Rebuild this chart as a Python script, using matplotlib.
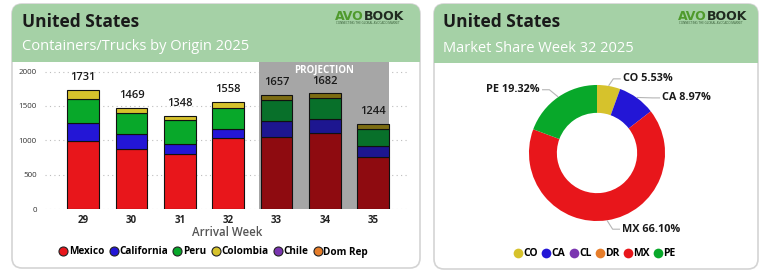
import numpy as np
import matplotlib
matplotlib.use('Agg')
import matplotlib.pyplot as plt
from matplotlib.patches import FancyBboxPatch, Rectangle
from matplotlib.lines import Line2D

plt.rcParams['font.family'] = ['Open Sans', 'DejaVu Sans']

# ---- data ----
weeks = ['29', '30', '31', '32', '33', '34', '35']
mexico = [990, 869, 796, 1030, 1049, 1102, 752]
california = [255, 218, 155, 140, 237, 209, 165]
peru = [362, 306, 340, 301, 297, 301, 243]
colombia = [124, 76, 57, 87, 74, 70, 84]
totals = [1731, 1469, 1348, 1558, 1657, 1682, 1244]
projected = [False, False, False, False, True, True, True]

share_labels = ['CO', 'CA', 'CL', 'DR', 'MX', 'PE']
share_values = [5.53, 8.97, 0.0, 0.0, 66.10, 19.32]

# colours
c_real = {'Mexico': '#e8161b', 'California': '#2316d6', 'Peru': '#08a82a', 'Colombia': '#d6c22c'}
c_proj = {'Mexico': '#8e0b10', 'California': '#1d1690', 'Peru': '#08702a', 'Colombia': '#7c6c12'}
legend_cols = {'Mexico': '#e8161b', 'California': '#2316d6', 'Peru': '#08a82a',
               'Colombia': '#d6c22c', 'Chile': '#7a35b0', 'Dom Rep': '#e67d2a'}
share_cols = ['#d6c22c', '#2316d6', '#7a35b0', '#e67d2a', '#e8161b', '#08a82a']
header_green = '#a5d1a6'

W, H = 768, 275
fig = plt.figure(figsize=(W / 100, H / 100), dpi=100)

# background axes in pixel coordinates
bg = fig.add_axes([0, 0, 1, 1])
bg.set_xlim(0, W)
bg.set_ylim(H, 0)
bg.axis('off')


def panel(x0, x1, y0, y1, hdr):
    box = FancyBboxPatch((x0, y0), x1 - x0, y1 - y0, boxstyle='round,pad=0,rounding_size=10',
                         facecolor='white', edgecolor='#d4d4d4', linewidth=1.2)
    bg.add_patch(box)
    head = Rectangle((x0, y0), x1 - x0, hdr - y0, facecolor=header_green, edgecolor='none')
    bg.add_patch(head)
    head.set_clip_path(box)


def logo(x, y):
    t = bg.text(x, y, 'AVO', color='#4f9a2c', fontsize=9, fontweight='bold',
                family='DejaVu Sans', ha='left', va='baseline')
    bg.annotate('BOOK', xy=(1, 0), xycoords=t, color='#202a20', fontsize=9,
                fontweight='bold', family='DejaVu Sans', ha='left', va='bottom')
    bg.text(x + 1, y + 3.5, 'CONNECTING THE GLOBAL AVOCADO MARKET', fontsize=2.2,
            color='#355a35', ha='left', va='center')


panel(12, 420, 4, 268, 62)
panel(434, 758, 4, 269, 63)

bg.text(22, 22, 'United States', fontsize=12.5, fontweight='bold', color='#1a1a1a', va='center')
bg.text(22, 47, 'Containers/Trucks by Origin 2025', fontsize=10.5, color='white', va='center')
bg.text(443, 22, 'United States', fontsize=12.5, fontweight='bold', color='#1a1a1a', va='center')
bg.text(443, 49, 'Market Share Week 32 2025', fontsize=10.5, color='white', va='center')
logo(335, 20)
logo(678, 20)

# ---- stacked bar chart ----
ax = fig.add_axes([45 / W, 66 / H, 363 / W, 147 / H])
ax.patch.set_alpha(0)
x = np.arange(len(weeks))
ax.set_xlim(-0.79, 6.72)
ax.set_ylim(0, 2140)
ax.axvspan(3.64, 6.32, color='#a6a6a6', zorder=1, linewidth=0)
ax.text(4.98, 2020, 'PROJECTION', color='white', fontsize=7, fontweight='bold',
        ha='center', va='center', zorder=3)

bottom = np.zeros(len(weeks))
for name, vals in [('Mexico', mexico), ('California', california), ('Peru', peru), ('Colombia', colombia)]:
    cols = [c_proj[name] if p else c_real[name] for p in projected]
    ax.bar(x, vals, 0.66, bottom=bottom, color=cols, edgecolor='#111111', linewidth=0.8, zorder=2)
    bottom += np.array(vals)

for xi, t in zip(x, totals):
    ax.annotate(str(t), (xi, t), xytext=(0, 5), textcoords='offset points', ha='center',
                va='bottom', fontsize=8, fontweight='semibold', color='#1a1a1a', zorder=3)

ax.set_yticks([0, 500, 1000, 1500, 2000])
ax.set_xticks(x)
ax.set_xticklabels(weeks, fontweight='bold', fontsize=7, color='#222222')
ax.tick_params(axis='y', labelsize=5.8, colors='#333333', length=0, pad=6)
ax.tick_params(axis='x', length=0, pad=4)
ax.grid(axis='y', linestyle=(0, (1, 3)), color='#bdbdbd', linewidth=0.8, zorder=0)
ax.set_axisbelow(True)
for s in ax.spines.values():
    s.set_visible(False)

bg.text(227, 233, 'Arrival Week', fontsize=8.3, color='#555555', ha='center', va='center',
        fontweight='semibold')

handles = [Line2D([], [], marker='o', linestyle='none', markersize=6.5, markerfacecolor=c,
                  markeredgecolor='#222222', markeredgewidth=0.8) for c in legend_cols.values()]
fig.legend(handles, list(legend_cols.keys()), loc='center', bbox_to_anchor=(213 / W, 1 - 252 / H),
           ncol=6, frameon=False, handletextpad=0.05, columnspacing=0.45, handlelength=1.0,
           prop={'weight': 'bold', 'size': 7.2})

# ---- donut ----
pax = fig.add_axes([(597 - 100) / W, (H - 153 - 100) / H, 200 / W, 200 / H])
wedges, _ = pax.pie(share_values, colors=share_cols, startangle=90, counterclock=False,
                    wedgeprops=dict(width=0.41, linewidth=0))
pax.set_xlim(-1.47, 1.47)
pax.set_ylim(-1.47, 1.47)
pax.set_aspect('equal')

label_pos = {'CO': (0.38, 1.09, 'left'), 'CA': (0.96, 0.81, 'left'),
             'PE': (-0.84, 0.93, 'right'), 'MX': (0.37, -1.12, 'left')}
for w, lab, v in zip(wedges, share_labels, share_values):
    if v <= 0:
        continue
    ang = np.deg2rad((w.theta1 + w.theta2) / 2)
    ex, ey = np.cos(ang), np.sin(ang)
    tx, ty, ha = label_pos[lab]
    sgn = 1 if ha == 'left' else -1
    elbow = (tx - sgn * 0.14, ty)
    pax.plot([ex * 1.01, elbow[0], tx - sgn * 0.04], [ey * 1.01, elbow[1], ty],
             color='#b5b5b5', linewidth=0.8, clip_on=False)
    pax.text(tx, ty, f'{lab} {v:.2f}%', ha=ha, va='center', fontsize=7.8,
             fontweight='bold', color='#1a1a1a')

phandles = [Line2D([], [], marker='o', linestyle='none', markersize=7, markerfacecolor=c,
                   markeredgecolor='none') for c in share_cols]
fig.legend(phandles, share_labels, loc='center', bbox_to_anchor=(594 / W, 1 - 254 / H),
           ncol=6, frameon=False, handletextpad=0.0, columnspacing=0.3, handlelength=1.0,
           prop={'weight': 'bold', 'size': 7.5})

fig.savefig('out.png', dpi=100, facecolor='white')
